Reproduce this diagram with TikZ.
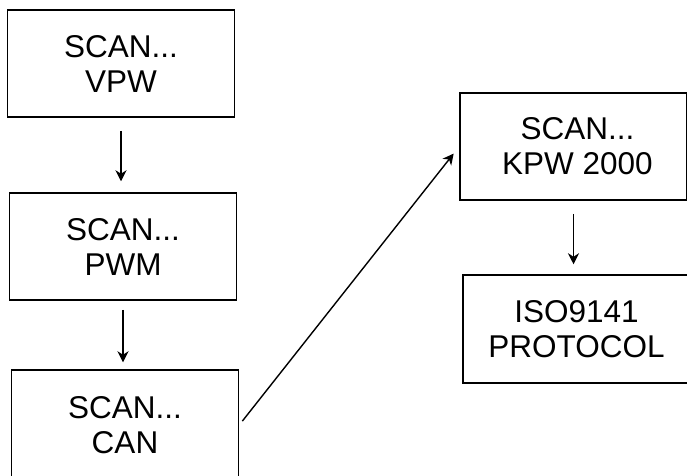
\documentclass[tikz,border=0pt]{standalone}
\usepackage{fontspec}
\setmainfont{Liberation Sans}
\usetikzlibrary{arrows.meta}

\begin{document}
\begin{tikzpicture}[x=1pt, y=-1pt, box/.style={rectangle, draw, line width=1.5pt,
	minimum width=227pt, minimum height=107pt, align=center, inner sep=0pt,
	font=\fontsize{31.5}{35}\selectfont}, link/.style={->, line width=1.4pt},
	>={Stealth[length=11pt,width=11pt,inset=3.5pt]}]

\useasboundingbox (0,0) rectangle (687,475);

\node[box] at (121,63.5)(vpw) {SCAN...\\VPW};
\node[box] at (123,246.5)(pwm) {SCAN...\\PWM};
\node[box, minimum height=110pt] at (125,425)(can) {SCAN...\\CAN};
\node[box] at (573.5,146.5)(kpw) {\hspace*{8pt}SCAN...\\\hspace*{8pt}KPW 2000};
\node[box, minimum height=108pt] at (576.5,329)(iso) {ISO9141\\PROTOCOL};

\draw[link, shorten <=13pt, shorten >=11pt] (vpw.south) -- (vpw.south |- pwm.north);
\draw[link, shorten <=9pt, shorten >=7pt] (pwm.south) -- (pwm.south |- can.north);
\draw[link, shorten <=5pt, shorten >=9pt] (can.east) -- (kpw.west);
\draw[link, shorten <=13pt, shorten >=10pt] (kpw.south) -- (kpw.south |- iso.north);
\end{tikzpicture}
\end{document}
